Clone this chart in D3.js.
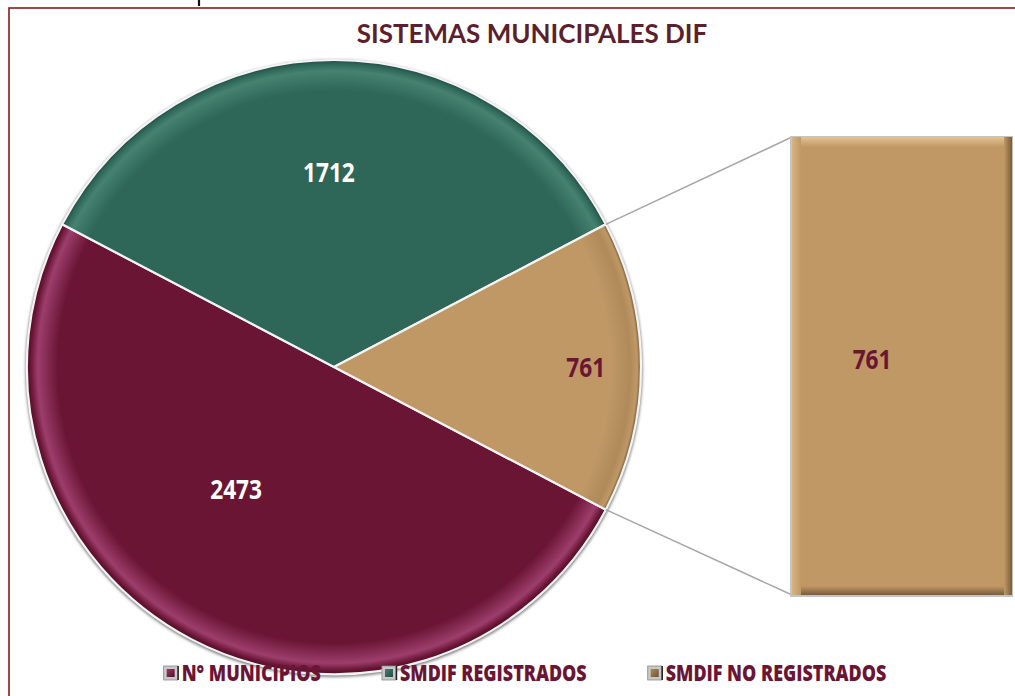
<!DOCTYPE html>
<html>
<head>
<meta charset="utf-8">
<script src="https://cdn.jsdelivr.net/npm/d3@7"></script>
<style>
  html, body { margin: 0; padding: 0; background: #fff; overflow: hidden; }
</style>
</head>
<body>
<div id="chart"></div>
<script>
// data
const categories = ["N° MUNICIPIOS", "SMDIF REGISTRADOS", "SMDIF NO REGISTRADOS"];
const values = [2473, 1712, 761];
const colors = ["#6b1535", "#2e6657", "#bf9866"];
const rimLight = ["#9c3e6c", "#468270", "#b08a5a"];
const rimDark = ["#4e0d27", "#1f4b40", "#6e5233"];
const barSlice = 2; // slice split out into the bar
const title = "SISTEMAS MUNICIPALES DIF";

const W = 1015, H = 696;
const cx = 334, cy = 367, R = 307;
const bar = { x0: 792, x1: 1012, top: 137, bottom: 595 };
const narrow = 0.84; // condensed look

const svg = d3.select("#chart").append("svg")
  .attr("width", W).attr("height", H)
  .style("font-family", "'Open Sans', 'Noto Sans', sans-serif");
const defs = svg.append("defs");

// frame
svg.append("rect").attr("x", 9).attr("y", 8).attr("width", W + 20).attr("height", H + 20)
  .attr("fill", "none").attr("stroke", "#8b1a1a").attr("stroke-width", 1.6);
// stray descender above the frame
svg.append("line").attr("x1", 199).attr("x2", 199).attr("y1", 0).attr("y2", 6)
  .attr("stroke", "#111").attr("stroke-width", 2.2);

svg.append("text")
  .attr("x", 532).attr("y", 43)
  .attr("text-anchor", "middle")
  .attr("font-family", "Lato, 'Open Sans', sans-serif")
  .attr("font-weight", 700).attr("font-size", 26)
  .attr("fill", "#5c1f2e")
  .text(title);

// ── pie ──
const total = d3.sum(values);
const barAngle = values[barSlice] / total * 2 * Math.PI;
const start = Math.PI / 2 + barAngle / 2;
const pie = d3.pie().sort(null).startAngle(start).endAngle(start + 2 * Math.PI);
const arcs = pie(values);
const arc = d3.arc().innerRadius(0).outerRadius(R);

const blur = defs.append("filter").attr("id", "sh").attr("x", "-10%").attr("y", "-10%")
  .attr("width", "120%").attr("height", "120%");
blur.append("feGaussianBlur").attr("stdDeviation", 1.6);

values.forEach((v, i) => {
  const g = defs.append("radialGradient").attr("id", "rg" + i)
    .attr("gradientUnits", "userSpaceOnUse")
    .attr("cx", 0).attr("cy", 0).attr("r", R);
  [[0, colors[i]], [0.9, colors[i]], [0.965, rimLight[i]], [0.988, colors[i]], [1, rimDark[i]]]
    .forEach(([o, c]) => g.append("stop").attr("offset", o).attr("stop-color", c));
});

const pg = svg.append("g").attr("transform", `translate(${cx},${cy})`);
pg.append("circle").attr("r", R + 1.5).attr("cy", 1.5).attr("fill", "#7c7c7c").attr("filter", "url(#sh)");
pg.selectAll("path.slice").data(arcs).join("path")
  .attr("class", "slice")
  .attr("d", arc)
  .attr("fill", (d, i) => `url(#rg${i})`)
  .attr("stroke", "#f4f4f4").attr("stroke-width", 2.2).attr("stroke-linejoin", "round");

// labels in pie (angle shift in degrees, radius as share of R)
const labelPlace = [{ da: 11, f: 0.51 }, { da: -1.5, f: 0.635 }, { da: 0, f: 0.82 }];
const labelFill = ["#ffffff", "#ffffff", "#6b1535"];
arcs.forEach((d, i) => {
  const a = (d.startAngle + d.endAngle) / 2 + labelPlace[i].da * Math.PI / 180;
  const r = R * labelPlace[i].f;
  const x = cx + r * Math.sin(a), y = cy - r * Math.cos(a);
  svg.append("text")
    .attr("transform", `translate(${x},${y}) scale(${narrow},1)`)
    .attr("text-anchor", "middle").attr("dy", "0.36em")
    .attr("font-weight", 700).attr("font-size", 27)
    .attr("fill", labelFill[i])
    .text(values[i]);
});

// ── bar of pie ──
const yb = d3.scaleLinear().domain([0, values[barSlice]]).range([bar.bottom, bar.top]);
const sl = arcs[barSlice];
const pt = a => [cx + R * Math.sin(a), cy - R * Math.cos(a)];
const pTop = pt(sl.startAngle), pBot = pt(sl.endAngle);
svg.append("line").attr("x1", pTop[0]).attr("y1", pTop[1]).attr("x2", bar.x0).attr("y2", yb(values[barSlice]))
  .attr("stroke", "#a6a6a6").attr("stroke-width", 1.5);
svg.append("line").attr("x1", pBot[0]).attr("y1", pBot[1]).attr("x2", bar.x0).attr("y2", yb(0))
  .attr("stroke", "#a6a6a6").attr("stroke-width", 1.5);

const bx = bar.x0, by = yb(values[barSlice]), bw = bar.x1 - bar.x0, bh = yb(0) - by;
const lin = (id, x2, y2, c1, c2) => {
  const g = defs.append("linearGradient").attr("id", id)
    .attr("x1", 0).attr("y1", 0).attr("x2", x2).attr("y2", y2);
  g.append("stop").attr("offset", 0).attr("stop-color", c1);
  g.append("stop").attr("offset", 1).attr("stop-color", c2);
};
lin("bt", 0, 1, "#e8c38d", colors[barSlice]);
lin("bb", 0, 1, colors[barSlice], "#7a5c38");
lin("bl", 1, 0, "#d9b47f", colors[barSlice]);
lin("br", 1, 0, colors[barSlice], "#7a5c38");
const bg = svg.append("g");
bg.append("rect").attr("x", bx - 2).attr("y", by - 1).attr("width", bw + 3).attr("height", bh + 3)
  .attr("fill", "#c4c4c4");
bg.append("rect").attr("x", bx).attr("y", by).attr("width", bw).attr("height", bh).attr("fill", colors[barSlice]);
bg.append("rect").attr("x", bx).attr("y", by).attr("width", bw).attr("height", 10).attr("fill", "url(#bt)");
bg.append("rect").attr("x", bx).attr("y", by + bh - 9).attr("width", bw).attr("height", 9).attr("fill", "url(#bb)");
bg.append("rect").attr("x", bx).attr("y", by).attr("width", 9).attr("height", bh).attr("fill", "url(#bl)");
bg.append("rect").attr("x", bx + bw - 8).attr("y", by).attr("width", 8).attr("height", bh).attr("fill", "url(#br)");
svg.append("text")
  .attr("transform", `translate(${bx + bw * 0.364},${(by + yb(0)) / 2 - 7}) scale(${narrow},1)`)
  .attr("text-anchor", "middle").attr("dy", "0.36em")
  .attr("font-weight", 700).attr("font-size", 27).attr("fill", "#6b1535")
  .text(values[barSlice]);

// ── legend ──
const leg = svg.append("g");
const legY = 673, box = 14, gapIn = 4, gapOut = 61, legNarrow = 0.78;
const items = categories.map((c, i) => {
  const g = leg.append("g");
  const grad = defs.append("linearGradient").attr("id", "lg" + i)
    .attr("x1", 0).attr("y1", 0).attr("x2", 1).attr("y2", 1);
  grad.append("stop").attr("offset", 0).attr("stop-color", rimLight[i]);
  grad.append("stop").attr("offset", 1).attr("stop-color", rimDark[i]);
  g.append("rect").attr("x", 0).attr("y", legY - box / 2).attr("width", box).attr("height", box)
    .attr("fill", "#c8c8c8").attr("stroke", "#8a8a8a").attr("stroke-width", 0.8);
  g.append("rect").attr("x", 3).attr("y", legY - box / 2 + 3).attr("width", box - 6).attr("height", box - 6)
    .attr("fill", `url(#lg${i})`);
  g.append("line").attr("x1", box + 0.5).attr("x2", box + 0.5).attr("y1", legY - box / 2).attr("y2", legY + box / 2)
    .attr("stroke", "#222").attr("stroke-width", 1.5);
  const t = g.append("text")
    .attr("transform", `translate(${box + gapIn},${legY}) scale(${legNarrow},1)`)
    .attr("dy", "0.36em").attr("font-weight", 800).attr("font-size", 23)
    .attr("fill", "#6b1535").text(c);
  return { g, w: box + gapIn + t.node().getComputedTextLength() * legNarrow };
});
const totalW = d3.sum(items, d => d.w) + gapOut * (items.length - 1);
let lx = 525 - totalW / 2;
items.forEach(it => { it.g.attr("transform", `translate(${lx},0)`); lx += it.w + gapOut; });
</script>
</body>
</html>
